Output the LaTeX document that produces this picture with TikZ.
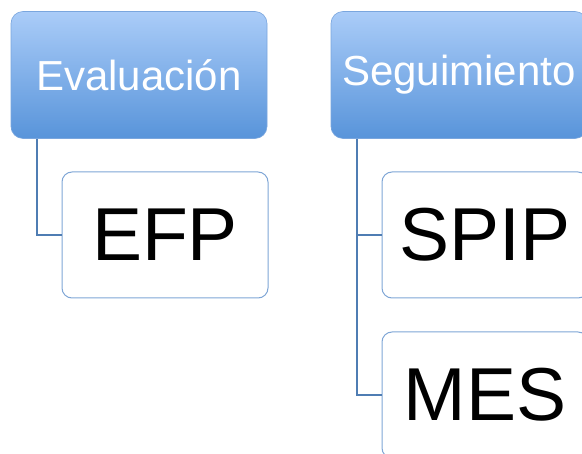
\documentclass[tikz,border=0pt]{standalone}
\usepackage{fontspec}
\setmainfont{Liberation Sans}
\begin{document}
\begin{tikzpicture}[x=1pt,y=-1pt,
  parent/.style={rectangle, rounded corners=12pt, minimum width=256pt, minimum height=127pt,
    inner sep=0pt, top color=parenttop, bottom color=parentbot, draw=parentedge, line width=0.6pt,
    text=white, font=\fontsize{42}{46}\selectfont},
  child/.style={rectangle, rounded corners=10pt, minimum width=206pt, minimum height=126pt,
    inner sep=0pt, fill=white, draw=childedge, line width=1pt,
    text=black, font=\fontsize{75}{80}\selectfont},
  link/.style={draw=linkcol, line width=1.6pt}]
\definecolor{parenttop}{HTML}{AACCF8}
\definecolor{parentbot}{HTML}{5894DA}
\definecolor{parentedge}{HTML}{7AA6DE}
\definecolor{childedge}{HTML}{7FA6D6}
\definecolor{linkcol}{HTML}{4F7DB3}
\useasboundingbox (0,0) rectangle (582,454);
\clip (0,0) rectangle (582,454);
\node[parent] (ev) at (139,75) {Evaluación};
\node[parent] (seg) at (459,75) {Seguimiento};
\node[child] (efp) at (165,235) {EFP};
\node[child] (spip) at (485,235) {SPIP};
\node[child] (mes) at (485,395) {MES};
\draw[link] ([xshift=26pt]ev.south west) |- (efp.west);
\draw[link] ([xshift=26pt]seg.south west) |- (spip.west);
\draw[link] ([xshift=26pt]seg.south west) |- (mes.west);
\end{tikzpicture}
\end{document}
